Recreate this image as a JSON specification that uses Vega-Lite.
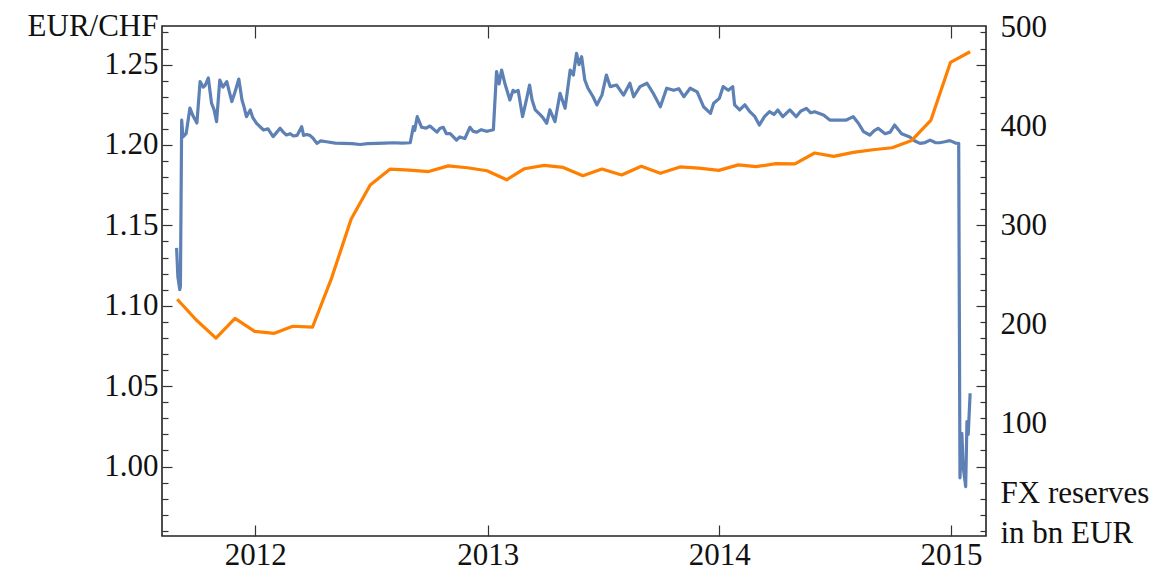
{
  "$schema": "https://vega.github.io/schema/vega-lite/v6.json",
  "autosize": {"type": "none"},
  "padding": {"left": 162, "top": 26, "right": 181, "bottom": 35},
  "width": 824,
  "height": 510,
  "config": {
    "view": {"stroke": "#222222", "strokeWidth": 1.6},
    "font": "Liberation Serif",
    "axis": {"labelFont": "Liberation Serif", "labelFontSize": 31, "labelColor": "#111111", "titleFont": "Liberation Serif", "titleFontSize": 31, "titleFontWeight": "normal", "titleColor": "#111111", "grid": false, "domain": false, "tickColor": "#333333", "tickWidth": 1.2}
  },
  "datasets": {
    "fx": [
      {"d": "2011-08-30", "v": 1.136}, {"d": "2011-09-01", "v": 1.118}, {"d": "2011-09-04", "v": 1.110}, {"d": "2011-09-05", "v": 1.112},
      {"d": "2011-09-07", "v": 1.2155}, {"d": "2011-09-09", "v": 1.205}, {"d": "2011-09-14", "v": 1.207}, {"d": "2011-09-20", "v": 1.223},
      {"d": "2011-09-25", "v": 1.218}, {"d": "2011-10-01", "v": 1.2137}, {"d": "2011-10-06", "v": 1.2394}, {"d": "2011-10-11", "v": 1.236},
      {"d": "2011-10-14", "v": 1.237}, {"d": "2011-10-19", "v": 1.2417}, {"d": "2011-10-24", "v": 1.226}, {"d": "2011-10-28", "v": 1.222},
      {"d": "2011-11-01", "v": 1.2145}, {"d": "2011-11-06", "v": 1.2404}, {"d": "2011-11-11", "v": 1.236}, {"d": "2011-11-17", "v": 1.2394},
      {"d": "2011-11-25", "v": 1.227}, {"d": "2011-11-30", "v": 1.233}, {"d": "2011-12-06", "v": 1.241}, {"d": "2011-12-11", "v": 1.228},
      {"d": "2011-12-14", "v": 1.224}, {"d": "2011-12-18", "v": 1.2176}, {"d": "2011-12-24", "v": 1.2218}, {"d": "2011-12-28", "v": 1.217},
      {"d": "2012-01-03", "v": 1.2135}, {"d": "2012-01-08", "v": 1.2115}, {"d": "2012-01-14", "v": 1.2093}, {"d": "2012-01-21", "v": 1.210},
      {"d": "2012-01-29", "v": 1.2052}, {"d": "2012-02-04", "v": 1.208}, {"d": "2012-02-09", "v": 1.2104}, {"d": "2012-02-14", "v": 1.208},
      {"d": "2012-02-19", "v": 1.2062}, {"d": "2012-02-25", "v": 1.207}, {"d": "2012-03-01", "v": 1.2056}, {"d": "2012-03-07", "v": 1.206},
      {"d": "2012-03-14", "v": 1.2114}, {"d": "2012-03-17", "v": 1.206}, {"d": "2012-03-22", "v": 1.2065}, {"d": "2012-03-27", "v": 1.206},
      {"d": "2012-04-01", "v": 1.2042}, {"d": "2012-04-07", "v": 1.201}, {"d": "2012-04-13", "v": 1.2025}, {"d": "2012-04-22", "v": 1.202},
      {"d": "2012-05-06", "v": 1.2012}, {"d": "2012-05-19", "v": 1.201}, {"d": "2012-06-01", "v": 1.2008}, {"d": "2012-06-14", "v": 1.2003},
      {"d": "2012-06-26", "v": 1.2008}, {"d": "2012-07-10", "v": 1.201}, {"d": "2012-07-23", "v": 1.2012}, {"d": "2012-08-05", "v": 1.2014},
      {"d": "2012-08-19", "v": 1.2012}, {"d": "2012-09-01", "v": 1.2014}, {"d": "2012-09-06", "v": 1.2114}, {"d": "2012-09-08", "v": 1.209},
      {"d": "2012-09-12", "v": 1.2176}, {"d": "2012-09-19", "v": 1.211}, {"d": "2012-09-26", "v": 1.2105}, {"d": "2012-10-02", "v": 1.2118},
      {"d": "2012-10-13", "v": 1.208}, {"d": "2012-10-18", "v": 1.2104}, {"d": "2012-10-23", "v": 1.211}, {"d": "2012-10-28", "v": 1.207},
      {"d": "2012-11-03", "v": 1.207}, {"d": "2012-11-13", "v": 1.203}, {"d": "2012-11-18", "v": 1.205}, {"d": "2012-11-26", "v": 1.204},
      {"d": "2012-12-04", "v": 1.211}, {"d": "2012-12-09", "v": 1.2085}, {"d": "2012-12-15", "v": 1.208}, {"d": "2012-12-22", "v": 1.2095},
      {"d": "2012-12-30", "v": 1.2085}, {"d": "2013-01-05", "v": 1.209}, {"d": "2013-01-10", "v": 1.2095}, {"d": "2013-01-15", "v": 1.2456},
      {"d": "2013-01-19", "v": 1.238}, {"d": "2013-01-23", "v": 1.2466}, {"d": "2013-01-28", "v": 1.2384}, {"d": "2013-02-05", "v": 1.228},
      {"d": "2013-02-10", "v": 1.234}, {"d": "2013-02-13", "v": 1.233}, {"d": "2013-02-18", "v": 1.234}, {"d": "2013-02-25", "v": 1.2176},
      {"d": "2013-03-03", "v": 1.228}, {"d": "2013-03-08", "v": 1.2373}, {"d": "2013-03-12", "v": 1.228}, {"d": "2013-03-17", "v": 1.2218},
      {"d": "2013-03-25", "v": 1.2187}, {"d": "2013-03-29", "v": 1.217}, {"d": "2013-04-04", "v": 1.2135}, {"d": "2013-04-09", "v": 1.2218},
      {"d": "2013-04-17", "v": 1.2145}, {"d": "2013-04-25", "v": 1.2321}, {"d": "2013-05-03", "v": 1.2228}, {"d": "2013-05-11", "v": 1.2466},
      {"d": "2013-05-16", "v": 1.2435}, {"d": "2013-05-21", "v": 1.257}, {"d": "2013-05-25", "v": 1.250}, {"d": "2013-05-29", "v": 1.2549},
      {"d": "2013-06-03", "v": 1.2404}, {"d": "2013-06-08", "v": 1.2353}, {"d": "2013-06-16", "v": 1.230}, {"d": "2013-06-22", "v": 1.2249},
      {"d": "2013-06-30", "v": 1.231}, {"d": "2013-07-07", "v": 1.2435}, {"d": "2013-07-13", "v": 1.2363}, {"d": "2013-07-23", "v": 1.2373},
      {"d": "2013-08-03", "v": 1.231}, {"d": "2013-08-13", "v": 1.2384}, {"d": "2013-08-19", "v": 1.230}, {"d": "2013-08-29", "v": 1.2363},
      {"d": "2013-09-09", "v": 1.2384}, {"d": "2013-09-19", "v": 1.232}, {"d": "2013-09-30", "v": 1.2238}, {"d": "2013-10-10", "v": 1.2353},
      {"d": "2013-10-21", "v": 1.234}, {"d": "2013-10-29", "v": 1.235}, {"d": "2013-11-06", "v": 1.230}, {"d": "2013-11-16", "v": 1.2353},
      {"d": "2013-11-27", "v": 1.233}, {"d": "2013-12-07", "v": 1.2238}, {"d": "2013-12-18", "v": 1.2197}, {"d": "2013-12-23", "v": 1.226},
      {"d": "2014-01-01", "v": 1.229}, {"d": "2014-01-07", "v": 1.2363}, {"d": "2014-01-15", "v": 1.234}, {"d": "2014-01-22", "v": 1.2363},
      {"d": "2014-01-25", "v": 1.225}, {"d": "2014-02-02", "v": 1.2218}, {"d": "2014-02-10", "v": 1.225}, {"d": "2014-02-18", "v": 1.2207},
      {"d": "2014-02-26", "v": 1.2176}, {"d": "2014-03-05", "v": 1.2124}, {"d": "2014-03-13", "v": 1.2176}, {"d": "2014-03-21", "v": 1.2207},
      {"d": "2014-03-28", "v": 1.219}, {"d": "2014-04-03", "v": 1.2218}, {"d": "2014-04-11", "v": 1.2176}, {"d": "2014-04-22", "v": 1.2218},
      {"d": "2014-05-02", "v": 1.2176}, {"d": "2014-05-09", "v": 1.221}, {"d": "2014-05-18", "v": 1.2228}, {"d": "2014-05-25", "v": 1.220},
      {"d": "2014-05-31", "v": 1.2207}, {"d": "2014-06-14", "v": 1.2187}, {"d": "2014-06-24", "v": 1.2155}, {"d": "2014-07-05", "v": 1.2155},
      {"d": "2014-07-20", "v": 1.2155}, {"d": "2014-07-31", "v": 1.2176}, {"d": "2014-08-08", "v": 1.2135}, {"d": "2014-08-16", "v": 1.2083},
      {"d": "2014-08-26", "v": 1.2062}, {"d": "2014-09-02", "v": 1.209}, {"d": "2014-09-08", "v": 1.2104}, {"d": "2014-09-19", "v": 1.207},
      {"d": "2014-09-27", "v": 1.208}, {"d": "2014-10-04", "v": 1.2124}, {"d": "2014-10-15", "v": 1.207}, {"d": "2014-10-28", "v": 1.205},
      {"d": "2014-11-05", "v": 1.2025}, {"d": "2014-11-13", "v": 1.201}, {"d": "2014-11-21", "v": 1.2015}, {"d": "2014-11-29", "v": 1.203},
      {"d": "2014-12-07", "v": 1.2015}, {"d": "2014-12-14", "v": 1.2014}, {"d": "2014-12-22", "v": 1.202}, {"d": "2014-12-30", "v": 1.2027},
      {"d": "2015-01-08", "v": 1.2012}, {"d": "2015-01-13", "v": 1.201}, {"d": "2015-01-15", "v": 0.993}, {"d": "2015-01-18", "v": 1.0207},
      {"d": "2015-01-20", "v": 1.000}, {"d": "2015-01-24", "v": 0.9875}, {"d": "2015-01-26", "v": 1.028}, {"d": "2015-01-28", "v": 1.020},
      {"d": "2015-01-31", "v": 1.0456}
    ],
    "res": [
      {"d": "2011-08-31", "r": 225.3}, {"d": "2011-09-30", "r": 204.3}, {"d": "2011-10-31", "r": 186}, {"d": "2011-11-30", "r": 206},
      {"d": "2011-12-31", "r": 192.8}, {"d": "2012-01-31", "r": 190.8}, {"d": "2012-02-29", "r": 198}, {"d": "2012-03-31", "r": 197},
      {"d": "2012-04-30", "r": 246.5}, {"d": "2012-05-31", "r": 306.6}, {"d": "2012-06-30", "r": 341}, {"d": "2012-07-31", "r": 357},
      {"d": "2012-08-31", "r": 356}, {"d": "2012-09-30", "r": 354.6}, {"d": "2012-10-31", "r": 360.4}, {"d": "2012-11-30", "r": 358.5},
      {"d": "2012-12-31", "r": 355.4}, {"d": "2013-01-31", "r": 346.3}, {"d": "2013-02-28", "r": 357.5}, {"d": "2013-03-31", "r": 360.9},
      {"d": "2013-04-30", "r": 358.8}, {"d": "2013-05-31", "r": 350.4}, {"d": "2013-06-30", "r": 357.2}, {"d": "2013-07-31", "r": 351.2},
      {"d": "2013-08-31", "r": 359.9}, {"d": "2013-09-30", "r": 352.8}, {"d": "2013-10-31", "r": 359.3}, {"d": "2013-11-30", "r": 358},
      {"d": "2013-12-31", "r": 355.8}, {"d": "2014-01-31", "r": 361.4}, {"d": "2014-02-28", "r": 359.6}, {"d": "2014-03-31", "r": 362.6},
      {"d": "2014-04-30", "r": 362.3}, {"d": "2014-05-31", "r": 373.4}, {"d": "2014-06-30", "r": 370}, {"d": "2014-07-31", "r": 374},
      {"d": "2014-08-31", "r": 376.7}, {"d": "2014-09-30", "r": 378.7}, {"d": "2014-10-31", "r": 386.1}, {"d": "2014-11-30", "r": 406.4},
      {"d": "2014-12-31", "r": 465.1}, {"d": "2015-01-31", "r": 475.9}
    ]
  },
  "layer": [
    {
      "mark": {"type": "rule", "color": "#BDBDBD", "strokeWidth": 1},
      "encoding": {
        "y": {
          "datum": 1.2,
          "type": "quantitative",
          "scale": {"domain": [0.9568, 1.274], "nice": false, "zero": false},
          "axis": {
            "orient": "right", "title": null, "labels": false, "domain": false,
            "values": [0.96, 0.97, 0.98, 0.99, 1.0, 1.01, 1.02, 1.03, 1.04, 1.05, 1.06, 1.07, 1.08, 1.09, 1.1, 1.11, 1.12, 1.13, 1.14, 1.15, 1.16, 1.17, 1.18, 1.19, 1.2, 1.21, 1.22, 1.23, 1.24, 1.25, 1.26, 1.27],
            "tickSize": {"condition": {"test": "round(datum.value*100) % 5 === 0", "value": -10}, "value": -6}
          }
        }
      }
    },
    {
      "data": {"name": "fx"},
      "mark": {"type": "line", "color": "#5E81B5", "strokeWidth": 3.2, "strokeJoin": "round"},
      "encoding": {
        "x": {
          "field": "d", "type": "temporal",
          "scale": {"type": "utc", "domain": [{"year": 2011, "month": 8, "date": 7, "utc": true}, {"year": 2015, "month": 2, "date": 25, "utc": true}]},
          "axis": {
            "orient": "bottom", "title": null, "domain": false, "format": "%Y", "tickSize": -11, "labelPadding": 15,
            "values": [{"year": 2012, "month": 1, "date": 1, "utc": true}, {"year": 2013, "month": 1, "date": 1, "utc": true}, {"year": 2014, "month": 1, "date": 1, "utc": true}, {"year": 2015, "month": 1, "date": 1, "utc": true}]
          }
        },
        "y": {
          "field": "v", "type": "quantitative",
          "scale": {"domain": [0.9568, 1.274], "nice": false, "zero": false},
          "axis": {
            "orient": "left", "title": "EUR/CHF", "titleAngle": 0, "titleAlign": "right", "titleBaseline": "alphabetic", "titleX": -4, "titleY": 9,
            "domain": false, "labelPadding": 14,
            "values": [0.96, 0.97, 0.98, 0.99, 1.0, 1.01, 1.02, 1.03, 1.04, 1.05, 1.06, 1.07, 1.08, 1.09, 1.1, 1.11, 1.12, 1.13, 1.14, 1.15, 1.16, 1.17, 1.18, 1.19, 1.2, 1.21, 1.22, 1.23, 1.24, 1.25, 1.26, 1.27],
            "labelExpr": "round(datum.value*100) % 5 === 0 ? format(datum.value, '.2f') : ''",
            "tickSize": {"condition": {"test": "round(datum.value*100) % 5 === 0", "value": -10}, "value": -6}
          }
        }
      }
    },
    {
      "data": {"name": "res"},
      "mark": {"type": "line", "color": "#FF7F00", "strokeWidth": 3.2, "strokeJoin": "round"},
      "encoding": {
        "x": {
          "field": "d", "type": "temporal",
          "scale": {"type": "utc", "domain": [{"year": 2011, "month": 8, "date": 7, "utc": true}, {"year": 2015, "month": 2, "date": 25, "utc": true}]},
          "axis": {
            "orient": "top", "title": null, "domain": false, "labels": false, "tickSize": -12,
            "values": [{"year": 2012, "month": 1, "date": 1, "utc": true}, {"year": 2013, "month": 1, "date": 1, "utc": true}, {"year": 2014, "month": 1, "date": 1, "utc": true}, {"year": 2015, "month": 1, "date": 1, "utc": true}]
          }
        },
        "y": {
          "field": "r", "type": "quantitative",
          "scale": {"domain": [-14.4, 502], "nice": false, "zero": false},
          "axis": {
            "orient": "right", "ticks": false, "domain": false, "labelPadding": 14, "labelAlign": "left",
            "values": [100, 200, 300, 400, 500],
            "title": ["FX reserves", "in bn EUR"], "titleAngle": 0, "titleAlign": "left", "titleBaseline": "alphabetic", "titleX": 14, "titleY": 476, "titleLineHeight": 40
          }
        }
      }
    }
  ],
  "resolve": {"scale": {"x": "independent", "y": "independent"}, "axis": {"x": "independent", "y": "independent"}}
}
